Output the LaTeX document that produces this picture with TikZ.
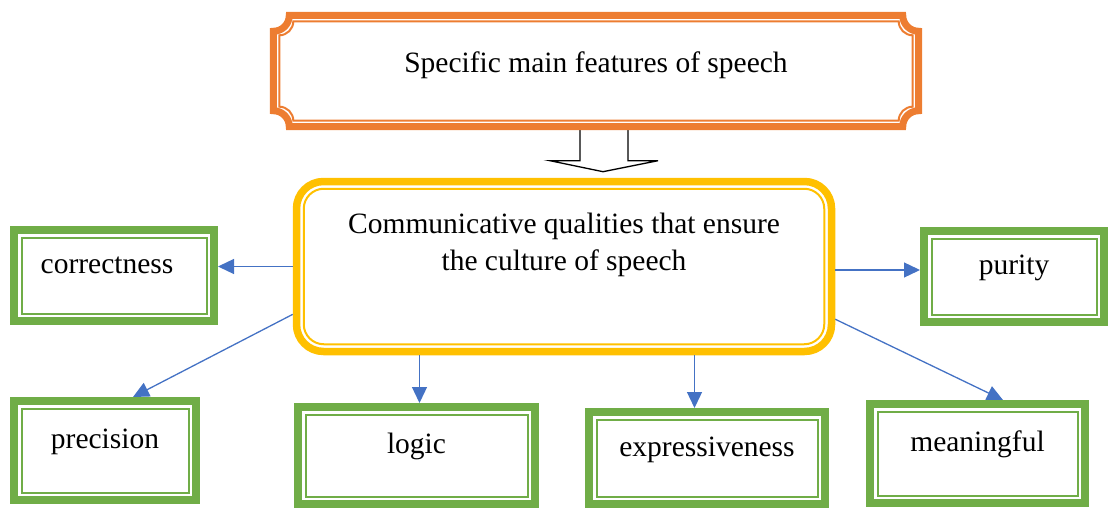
\documentclass[tikz,border=0pt]{standalone}
\usepackage{fontspec}
\setmainfont{Liberation Serif}
\usetikzlibrary{arrows.meta,positioning,calc}
\definecolor{featorange}{HTML}{ED7D31}
\definecolor{qualyellow}{HTML}{FFC000}
\definecolor{itemgreen}{HTML}{70AD47}
\definecolor{linkblue}{HTML}{4472C4}
\tikzset{%
  >={Triangle[length=16pt 0,width=15pt 0]},
  % Specifications for style of nodes:
           base/.style = {rectangle, draw, text centered,
                          font=\fontsize{29.5}{37}\selectfont},
       features/.style = {base, draw=none, minimum width=645pt,
                          minimum height=111pt, text height=20pt, text depth=16pt},
      qualities/.style = {base, draw=qualyellow, line width=7.5pt,
                          rounded corners=27pt},
        quality/.style = {base, draw=itemgreen, line width=8pt,
                          text height=20pt, text depth=24pt},
  % Specifications for style of lines:
           link/.style = {->, draw=linkblue, line width=1.3pt},
}
\begin{document}
\begin{tikzpicture}[x=1pt, y=-1pt]
\useasboundingbox (0,0) rectangle (1110,508);

\node (feat)  [features] at (596,71) {Specific main features of speech};

% hollow arrow below the title
\filldraw[fill=white, draw=black, line width=1.3pt]
  ([xshift=-16pt]feat.south) -- ++(0,34) -- ++(-30,0) -- ++(53,11)
  -- ++(55,-11) -- ++(-30,0) -- ++(0,-34);

% frame with scooped corners
\foreach \ins/\rad/\lw in {0pt/16pt/7pt, 6pt/14pt/2pt}
  \draw[featorange, line width=\lw]
    ([shift={(\ins+\rad,-\ins)}]feat.north west)
    -- ([shift={(-\ins-\rad,-\ins)}]feat.north east)
    arc[start angle=180, end angle=270, radius=\rad]
    -- ([shift={(-\ins,\ins+\rad)}]feat.south east)
    arc[start angle=90, end angle=180, radius=\rad]
    -- ([shift={(\ins+\rad,\ins)}]feat.south west)
    arc[start angle=0, end angle=90, radius=\rad]
    -- ([shift={(\ins,-\ins-\rad)}]feat.north west)
    arc[start angle=270, end angle=360, radius=\rad]
    -- cycle;

\node (comm)  [qualities, minimum width=535pt, minimum height=170pt] at (564,266.5) {};
\draw[qualyellow, line width=2pt, rounded corners=20pt]
  ([shift={(11pt,-11pt)}]comm.north west) rectangle ([shift={(-11pt,11pt)}]comm.south east);
\node (commtext) [base, draw=none, align=center] at ([yshift=22pt]comm.center)
  {Communicative qualities that ensure\\the culture of speech};

\node (corr)  [quality, minimum width=200pt, minimum height=91pt] at (114,275.5)  {correctness\kern14pt};
\node (pur)   [quality, minimum width=180pt, minimum height=91pt] at (1014,276.5) {purity};
\node (prec)  [quality, minimum width=182pt, minimum height=99pt] at (105,450.5)  {precision};
\node (logic) [quality, minimum width=237pt, minimum height=97pt] at (416.5,455.5) {logic};
\node (expr)  [quality, minimum width=236pt, minimum height=92pt] at (707,458)    {expressiveness};
\node (mean)  [quality, minimum width=215pt, minimum height=99pt] at (977.5,453.5) {meaningful};

\foreach \q in {corr,pur,prec,logic,expr,mean}
  \draw[itemgreen, line width=2pt]
    ([shift={(11.5pt,-11.5pt)}]\q.north west) rectangle ([shift={(-11.5pt,11.5pt)}]\q.south east);

\coordinate (purin)   at ([yshift=6.5pt]pur.west);
\coordinate (logicin) at ([xshift=3pt]logic.north);
\coordinate (exprin)  at ([xshift=-12.5pt]expr.north);

\draw[link]   (comm.west) -- (comm.west -| corr.east);
\draw[link]   (comm.east |- purin) -- (purin);
\draw[link]   (comm.190) -- ([xshift=28pt]prec.north);
\draw[link]   (logicin |- comm.south) -- (logicin);
\draw[link]   (exprin |- comm.south) -- (exprin);
\draw[link]   (comm.349) -- ([xshift=25.5pt]mean.north);
\end{tikzpicture}
\end{document}
